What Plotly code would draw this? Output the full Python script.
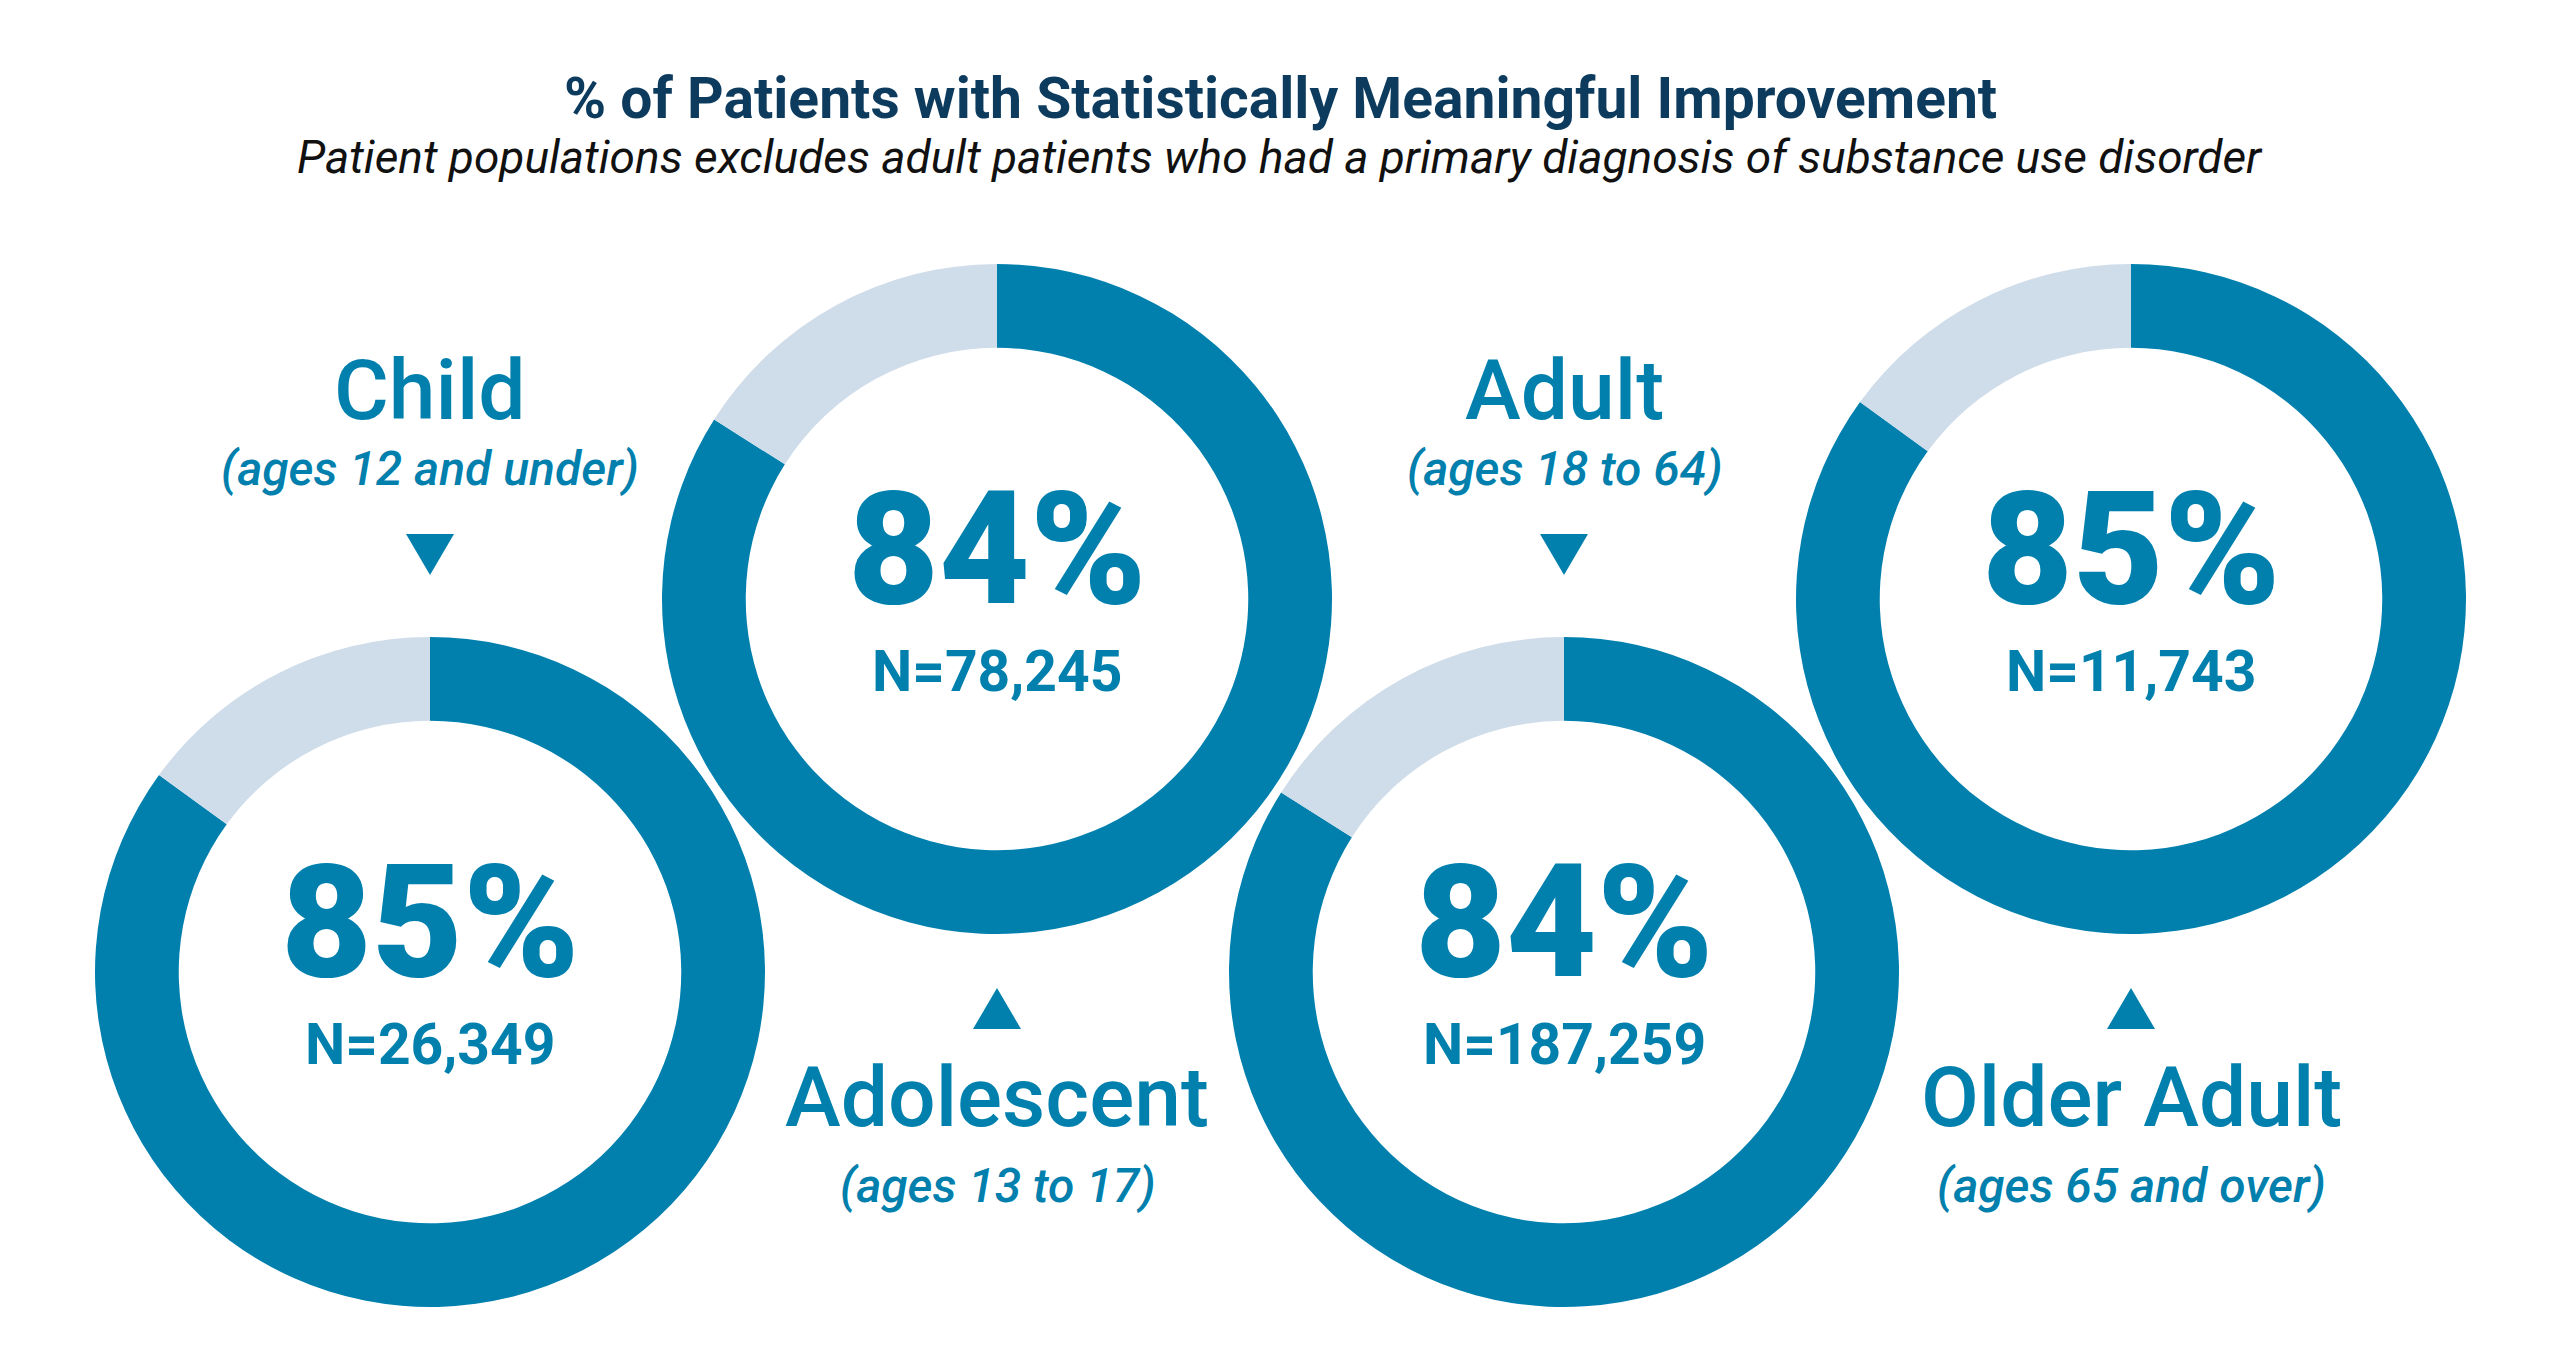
import plotly.graph_objects as go

# ---- data ----
groups = ["Child", "Adolescent", "Adult", "Older Adult"]
age_ranges = ["(ages 12 and under)", "(ages 13 to 17)", "(ages 18 to 64)", "(ages 65 and over)"]
pct_improved = [85, 84, 84, 85]
n_patients = [26349, 78245, 187259, 11743]

title = "% of Patients with Statistically Meaningful Improvement"
subtitle = "Patient populations excludes adult patients who had a primary diagnosis of substance use disorder"

# ---- layout / style ----
W, H = 2560, 1359
BLUE = "#0180AE"
GREY = "#CFDCE9"
NAVY = "#0D3B5E"
FONT = "Roboto"

centers_x = [430, 997, 1564, 2131]
centers_y = [972, 599, 972, 599]
R = 335
label_above = [True, False, True, False]

fig = go.Figure()

for i in range(len(groups)):
    cx, cy = centers_x[i], centers_y[i]
    fig.add_trace(go.Pie(
        values=[pct_improved[i], 100 - pct_improved[i]],
        labels=["Improved", "Not improved"],
        marker=dict(colors=[BLUE, GREY], line=dict(width=0)),
        hole=0.75, sort=False, direction="clockwise", rotation=0,
        textinfo="none", hoverinfo="label+percent", showlegend=False,
        domain=dict(x=[(cx - R) / W, (cx + R) / W],
                    y=[1 - (cy + R) / H, 1 - (cy - R) / H]),
    ))

annotations = []
shapes = []

annotations.append(dict(x=W / 2, y=98, text=title, showarrow=False,
                        font=dict(family=FONT, size=57, color=NAVY, weight=700),
                        xanchor="center", yanchor="middle", xref="x", yref="y"))
annotations.append(dict(x=W / 2, y=157, text=subtitle, showarrow=False,
                        font=dict(family=FONT, size=46, color="#111111", style="italic"),
                        xanchor="center", yanchor="middle", xref="x", yref="y"))

for i in range(len(groups)):
    cx, cy = centers_x[i], centers_y[i]
    annotations.append(dict(x=cx, y=cy - 50, text=f"{pct_improved[i]}%", showarrow=False,
                            font=dict(family=FONT, size=157, color=BLUE, weight=900),
                            xanchor="center", yanchor="middle", xref="x", yref="y"))
    annotations.append(dict(x=cx, y=cy + 72, text=f"N={n_patients[i]:,}", showarrow=False,
                            font=dict(family=FONT, size=57, color=BLUE, weight=700),
                            xanchor="center", yanchor="middle", xref="x", yref="y"))
    if label_above[i]:
        name_y, age_y, tri_top, tri_bot = 390, 468, 534, 575
        tri = f"M {cx-24},{tri_top} L {cx+24},{tri_top} L {cx},{tri_bot} Z"
    else:
        name_y, age_y, tri_top, tri_bot = 1097, 1185, 988, 1029
        tri = f"M {cx-24},{tri_bot} L {cx+24},{tri_bot} L {cx},{tri_top} Z"
    annotations.append(dict(x=cx, y=name_y, text=groups[i], showarrow=False,
                            font=dict(family=FONT, size=84, color=BLUE, weight=500),
                            xanchor="center", yanchor="middle", xref="x", yref="y"))
    annotations.append(dict(x=cx, y=age_y, text=age_ranges[i], showarrow=False,
                            font=dict(family=FONT, size=48, color=BLUE, weight=500, style="italic"),
                            xanchor="center", yanchor="middle", xref="x", yref="y"))
    shapes.append(dict(type="path", path=tri, xref="x", yref="y",
                       fillcolor=BLUE, line=dict(width=0)))

fig.update_layout(
    width=W, height=H,
    margin=dict(l=0, r=0, t=0, b=0),
    paper_bgcolor="white", plot_bgcolor="rgba(0,0,0,0)",
    xaxis=dict(range=[0, W], visible=False, fixedrange=True, domain=[0, 1]),
    yaxis=dict(range=[H, 0], visible=False, fixedrange=True, domain=[0, 1]),
    annotations=annotations, shapes=shapes,
)

fig.write_html("out.html")
